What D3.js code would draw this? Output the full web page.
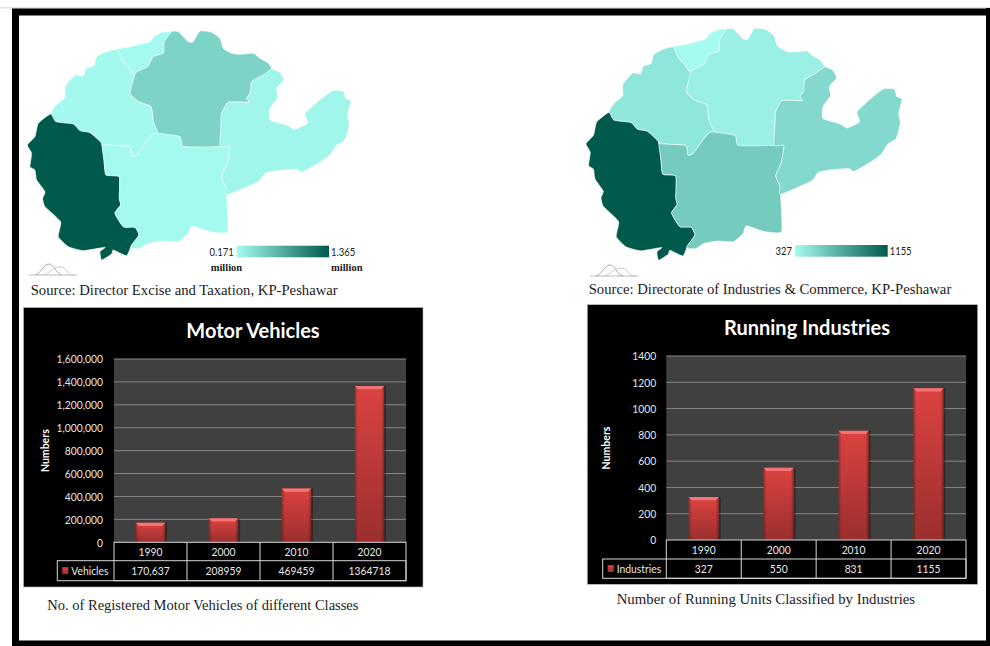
<!DOCTYPE html>
<html>
<head>
<meta charset="utf-8">
<script src="https://cdn.jsdelivr.net/npm/d3@7/dist/d3.min.js"></script>
<style>
html,body{margin:0;padding:0;background:#fff}
svg{display:block}
text{font-family:Lato,"Open Sans",sans-serif}
.serif{font-family:"Liberation Serif",serif;fill:#222}
</style>
</head>
<body>
<svg id="page" width="990" height="646"></svg>
<script>
// Years and annual totals
const years = ["1990", "2000", "2010", "2020"];
const vehicles = [170637, 208959, 469459, 1364718];
const industries = [327, 550, 831, 1155];
const vehicleCells = ["170,637", "208959", "469459", "1364718"];
const industryCells = ["327", "550", "831", "1155"];
const vehicleTicks = [0, 200000, 400000, 600000, 800000, 1000000, 1200000, 1400000, 1600000];
const industryTicks = [0, 200, 400, 600, 800, 1000, 1200, 1400];

// District outlines in map units
const districtNames = ["north", "centre", "northwest", "southwest", "south", "east"];
const outlineNorth = [[350,148],[390,140],[450,125],[460,110],[485,97],[515,95],[493,125],[490,160],[460,170],[443,200],[405,220],[398,220],[385,200],[365,180]];
const outlineCentre = [[515,95],[535,95],[565,125],[580,125],[600,93],[635,97],[660,115],[670,145],[695,160],[720,163],[760,160],[780,175],[805,190],[815,207],[790,225],[755,245],[750,280],[740,295],[747,307],[685,307],[665,340],[663,375],[660,440],[550,440],[540,410],[475,400],[460,365],[453,320],[415,305],[390,280],[405,220],[443,200],[460,170],[490,160],[493,125]];
const outlineNorthwest = [[152,342],[168,315],[195,293],[195,260],[225,225],[250,228],[258,205],[282,197],[290,170],[315,157],[350,148],[365,180],[385,200],[398,220],[405,220],[390,280],[415,305],[453,320],[460,365],[475,400],[460,402],[438,428],[410,465],[395,468],[388,440],[310,435],[305,430],[270,398],[240,392],[220,372],[168,365]];
const outlineSouthwest = [[152,342],[168,365],[220,372],[240,392],[270,398],[305,430],[312,480],[318,525],[358,530],[358,595],[362,615],[345,640],[370,680],[405,682],[417,705],[395,735],[380,767],[340,750],[335,762],[305,780],[300,755],[315,742],[250,752],[205,740],[175,710],[182,665],[135,620],[128,595],[135,575],[110,540],[105,510],[90,500],[95,460],[82,435],[105,410],[115,370]];
const outlineSouth = [[310,435],[388,440],[395,468],[410,465],[438,428],[460,402],[475,400],[540,410],[550,440],[660,440],[690,440],[682,490],[665,530],[678,560],[680,585],[683,695],[630,695],[575,678],[565,700],[535,725],[485,723],[445,730],[420,745],[392,745],[395,735],[417,705],[405,682],[370,680],[345,640],[362,615],[358,595],[358,530],[318,525],[312,480],[305,430]];
const outlineEast = [[815,207],[840,217],[852,240],[830,265],[833,293],[810,325],[810,360],[860,375],[885,388],[923,370],[915,340],[955,303],[995,273],[1030,273],[1037,295],[1053,303],[1043,345],[1048,373],[1035,420],[1010,435],[990,465],[955,490],[905,517],[890,508],[825,513],[795,520],[775,545],[680,585],[678,560],[665,530],[682,490],[690,440],[660,440],[663,375],[665,340],[685,307],[747,307],[740,295],[750,280],[755,245],[790,225]];
const outlines = [outlineNorth, outlineCentre, outlineNorthwest, outlineSouthwest, outlineSouth, outlineEast];

// Estimated district values, in the order of districtNames
const vehicleDistricts = [171000, 469459, 185000, 1364718, 176000, 208959];
const industryDistricts = [327, 382, 435, 1155, 575, 500];

const svg = d3.select("#page");
const defs = svg.append("defs");
const low = "#a5fbef", high = "#005a4c";

// Squeeze a label horizontally so Lato takes on a narrower, Calibri-like set width
function condense(selection, factor) {
  selection.each(function () {
    this.setAttribute("textLength", this.getComputedTextLength() * factor);
    this.setAttribute("lengthAdjust", "spacingAndGlyphs");
  });
}

// Shared gradients
const legendGrad = defs.append("linearGradient").attr("id", "ramp");
legendGrad.append("stop").attr("offset", "0").attr("stop-color", low);
legendGrad.append("stop").attr("offset", "1").attr("stop-color", high);

const barV = defs.append("linearGradient").attr("id", "barV").attr("x2", 0).attr("y2", 1);
barV.append("stop").attr("offset", "0").attr("stop-color", "#dc4341");
barV.append("stop").attr("offset", "1").attr("stop-color", "#9a2f2d");
const barH = defs.append("linearGradient").attr("id", "barH");
[[0, .32], [.1, 0], [.9, 0], [1, .36]].forEach(([o, a]) =>
  barH.append("stop").attr("offset", o).attr("stop-color", "#300").attr("stop-opacity", a));

// Frame around the whole sheet
svg.append("rect").attr("y", 7).attr("width", 990).attr("height", 1.5).attr("fill", "#e4e4e4");
svg.append("rect").attr("x", 15.5).attr("y", 12).attr("width", 974).attr("height", 632)
  .attr("fill", "none").attr("stroke", "#000").attr("stroke-width", 7);
svg.append("rect").attr("x", 986).attr("y", 8).attr("width", 4).attr("height", 638).attr("fill", "#000");
svg.append("rect").attr("x", 12).attr("y", 641).attr("width", 978).attr("height", 5).attr("fill", "#000");

function drawMap(cfg) {
  const g = svg.append("g");
  const x = d3.scaleLinear().domain([82, 1053]).range(cfg.xRange);
  const y = d3.scaleLinear().domain([93, 780]).range(cfg.yRange);
  const color = d3.scaleLinear().domain(cfg.domain).range([low, high]);
  const line = d3.line().x(d => x(d[0])).y(d => y(d[1])).curve(d3.curveCardinalClosed.tension(.55));
  g.selectAll("path.district").data(districtNames).join("path")
    .attr("class", "district")
    .attr("d", (d, i) => line(outlines[i]))
    .attr("fill", (d, i) => color(cfg.values[i]))
    .attr("stroke", "#fff").attr("stroke-width", .7).attr("stroke-opacity", .85).attr("stroke-linejoin", "round");

  // Colour ramp legend
  const [lx0, lx1, ly0, ly1] = cfg.legend;
  g.append("rect").attr("x", lx0).attr("y", ly0).attr("width", lx1 - lx0).attr("height", ly1 - ly0)
    .attr("fill", "url(#ramp)");
  const ends = g.append("g").attr("font-size", 11.5).attr("fill", "#222");
  ends.append("text").attr("x", lx0 - 3).attr("y", ly0 + 9.8).attr("text-anchor", "end").text(cfg.labels[0]);
  ends.append("text").attr("x", lx1 + 2).attr("y", ly0 + 9.8).text(cfg.labels[1]);
  condense(ends.selectAll("text"), .82);
  if (cfg.unit) {
    g.append("text").attr("class", "serif").attr("x", lx0 - 26).attr("y", ly0 + 25)
      .attr("font-size", 10.5).attr("font-weight", "bold").text(cfg.unit);
    g.append("text").attr("class", "serif").attr("x", lx1 + 2).attr("y", ly0 + 25)
      .attr("font-size", 10.5).attr("font-weight", "bold").text(cfg.unit);
  }

  // Small mountain emblem under the map
  const m = g.append("g").attr("transform", `translate(${cfg.emblem[0]},${cfg.emblem[1]})`)
    .attr("fill", "none").attr("stroke-width", 1);
  m.append("path").attr("d", "M0 0H48").attr("stroke", "#bbb");
  m.append("path").attr("d", "M6 0C12 -1 14 -11 20 -11C25 -11 27 -1 33 0").attr("stroke", "#aaa");
  m.append("path").attr("d", "M14 0C20 -1 24 -8 30 -8C34 -8 36 -7 38 -4C40 -1 42 0 46 0").attr("stroke", "#ccc");

  g.append("text").attr("class", "serif").attr("x", cfg.source[0]).attr("y", cfg.source[1])
    .attr("font-size", 14.7).text(cfg.sourceText);
}

function drawChart(cfg) {
  const g = svg.append("g");
  const [bx0, by0, bx1, by1] = cfg.box;
  g.append("rect").attr("x", bx0).attr("y", by0).attr("width", bx1 - bx0).attr("height", by1 - by0)
    .attr("fill", "#000").attr("stroke", "#bbb").attr("stroke-width", .6);

  const [px0, py0, px1, py1] = cfg.plot;
  const x = d3.scaleBand().domain(years).range([px0, px1]).paddingInner(.6).paddingOuter(.3);
  const cols = d3.scaleBand().domain(years).range([px0, px1]);
  const y = d3.scaleLinear().domain([0, d3.max(cfg.ticks)]).range([py1, py0]);

  g.append("rect").attr("x", px0).attr("y", py0).attr("width", px1 - px0).attr("height", py1 - py0)
    .attr("fill", "#404040");

  // Title
  g.append("text").attr("x", cfg.titleX).attr("y", cfg.titleY).attr("text-anchor", "middle")
    .attr("font-size", 20).attr("font-weight", "bold").attr("fill", "#fff").text(cfg.title);

  // Gridlines
  g.append("g").selectAll("line").data(cfg.ticks.filter(t => t > 0)).join("line")
    .attr("x1", px0).attr("x2", px1)
    .attr("y1", d => y(d)).attr("y2", d => y(d))
    .attr("stroke", "#868686").attr("stroke-width", 1);

  // Value axis labels
  const axis = d3.axisLeft(y).tickValues(cfg.ticks).tickSize(0).tickPadding(cfg.tickPad)
    .tickFormat(cfg.format);
  const ax = g.append("g").attr("transform", `translate(${px0},0)`).call(axis);
  ax.select(".domain").remove();
  ax.selectAll("text").attr("font-size", 12).attr("fill", "#e4e4e4")
    .style("font-family", "Lato,sans-serif");
  condense(ax.selectAll("text"), .86);

  g.append("text").attr("transform", `translate(${cfg.yLabelX},${(py0 + py1) / 2}) rotate(-90)`)
    .attr("text-anchor", "middle").attr("font-size", 10.5).attr("font-weight", "bold")
    .attr("fill", "#fff").text("Numbers");

  // Bars with a bevelled cap and darker sides
  const bars = g.append("g").selectAll("g").data(cfg.values).join("g");
  const bx = (d, i) => x(years[i]);
  bars.append("rect").attr("x", (d, i) => bx(d, i) + 1).attr("y", d => y(d))
    .attr("width", x.bandwidth() + 1).attr("height", d => py1 - y(d)).attr("fill", "#000").attr("opacity", .3);
  bars.append("rect").attr("x", bx).attr("y", d => y(d))
    .attr("width", x.bandwidth()).attr("height", d => py1 - y(d)).attr("fill", "url(#barV)");
  bars.append("rect").attr("x", bx).attr("y", d => y(d))
    .attr("width", x.bandwidth()).attr("height", d => py1 - y(d)).attr("fill", "url(#barH)");
  bars.append("path")
    .attr("d", (d, i) => {
      const a = bx(d, i), b = a + x.bandwidth(), t = y(d);
      return `M${a} ${t}H${b}L${b - 3} ${t + 3.2}H${a + 3}Z`;
    })
    .attr("fill", "#f27674");

  // Data table below the plot
  const [r0, r1, r2] = cfg.rows;
  const stroke = "#d6d6d6";
  const t = g.append("g").attr("fill", "none").attr("stroke", stroke).attr("stroke-width", 1);
  t.append("rect").attr("x", px0).attr("y", r0).attr("width", px1 - px0).attr("height", r2 - r0);
  t.append("rect").attr("x", cfg.tableX).attr("y", r1).attr("width", px1 - cfg.tableX).attr("height", r2 - r1);
  t.selectAll("line").data(years.slice(1)).join("line")
    .attr("x1", d => cols(d)).attr("x2", d => cols(d)).attr("y1", r0).attr("y2", r2);

  const cx = d => cols(d) + cols.bandwidth() / 2;
  const cells = g.append("g").attr("font-size", 12).attr("fill", "#e8e8e8");
  cells.append("g").selectAll("text").data(years).join("text")
    .attr("x", cx).attr("y", (r0 + r1) / 2 + 4.2).attr("text-anchor", "middle").text(d => d);
  cells.append("g").selectAll("text").data(cfg.cells).join("text")
    .attr("x", (d, i) => cx(years[i])).attr("y", (r1 + r2) / 2 + 4.2).attr("text-anchor", "middle").text(d => d);

  // Series key in the first table cell
  g.append("rect").attr("x", cfg.tableX + 5).attr("y", (r1 + r2) / 2 - 3.5).attr("width", 6).attr("height", 7)
    .attr("fill", "url(#barV)");
  cells.append("text").attr("x", cfg.tableX + 14).attr("y", (r1 + r2) / 2 + 4.2).text(cfg.series);
  condense(cells.selectAll("text"), .86);

  g.append("text").attr("class", "serif").attr("x", cfg.caption[0]).attr("y", cfg.caption[1])
    .attr("font-size", cfg.captionSize).text(cfg.captionText);
}

drawMap({
  xRange: [27.3, 351], yRange: [31, 260],
  domain: [171000, 1364718], values: vehicleDistricts,
  legend: [236.7, 329, 245.7, 257.3], labels: ["0.171", "1.365"], unit: "million",
  emblem: [29, 275], source: [30.7, 295],
  sourceText: "Source: Director Excise and Taxation, KP-Peshawar"
});
drawMap({
  xRange: [586, 902], yRange: [28.3, 260.3],
  domain: [327, 1155], values: industryDistricts,
  legend: [795, 887.7, 245, 256.7], labels: ["327", "1155"],
  emblem: [590, 276], source: [588.7, 294],
  sourceText: "Source: Directorate of Industries & Commerce, KP-Peshawar"
});

drawChart({
  box: [23.5, 307.5, 423, 587], plot: [114, 359, 406, 542.3], rows: [542.3, 560.7, 580.7], tableX: 57.3,
  title: "Motor Vehicles", titleX: 253, titleY: 337.5,
  values: vehicles, ticks: vehicleTicks, cells: vehicleCells, format: d3.format(","), tickPad: 11,
  series: "Vehicles", yLabelX: 49,
  caption: [47.3, 610], captionSize: 14.5, captionText: "No. of Registered Motor Vehicles of different Classes"
});
drawChart({
  box: [587.3, 304.7, 977.7, 584.3], plot: [666.3, 356, 966, 540], rows: [540, 559, 578.3], tableX: 602.7,
  title: "Running Industries", titleX: 807, titleY: 335,
  values: industries, ticks: industryTicks, cells: industryCells, format: d3.format("d"), tickPad: 10,
  series: "Industries", yLabelX: 610,
  caption: [616.7, 604], captionSize: 14.8, captionText: "Number of Running Units Classified by Industries"
});
</script>
</body>
</html>
